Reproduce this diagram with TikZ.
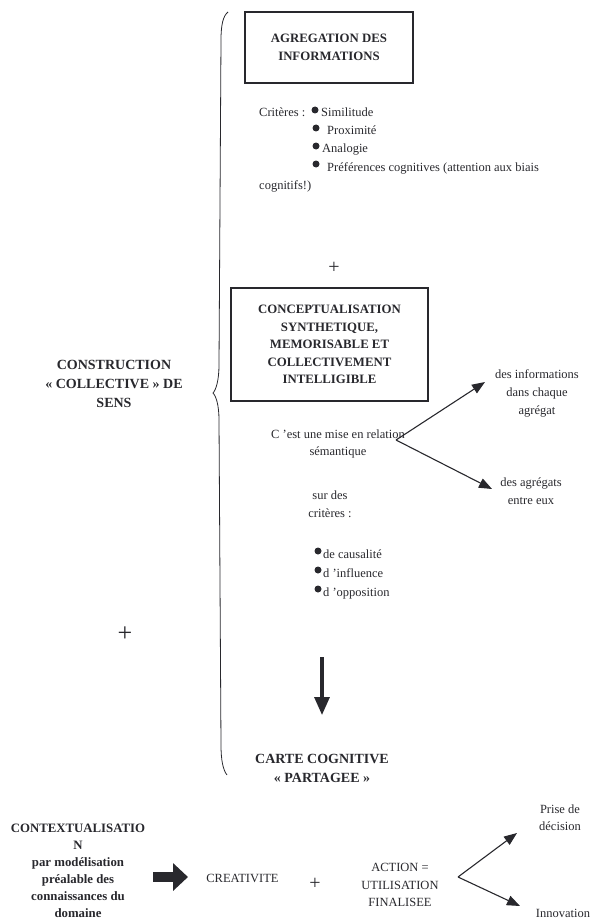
\documentclass[tikz,border=0pt]{standalone}
\usepackage{fontspec}
\setmainfont{Liberation Serif}
\usetikzlibrary{arrows.meta}
\definecolor{ink}{RGB}{40,40,45}
\begin{document}
\begin{tikzpicture}[x=1pt,y=-1pt,
  every node/.style={text=ink, inner sep=0pt, font=\fontsize{12.5}{17.5}\selectfont},
  bold/.style={font=\fontsize{12.8}{17.5}\selectfont\bfseries, align=center},
  bigbold/.style={font=\fontsize{14}{19}\selectfont\bfseries, align=center},
  txt/.style={align=center},
  box/.style={draw=ink, line width=1.1pt},
  bul/.style={circle, fill=ink, minimum size=7pt, inner sep=0pt},
  thinarrow/.style={draw=ink, line width=1.1pt, -{Triangle[length=13pt,width=10pt]}},
  plussign/.style={font=\fontsize{20}{20}\selectfont},
]
\useasboundingbox (0,0) rectangle (594,923);

% brace
\draw[ink, line width=0.8pt] (228,12) .. controls (223,16) and (221,25) .. (221,40)
  -- (219,365) .. controls (219,380) and (216,390) .. (213,393)
  .. controls (216,396) and (219,405) .. (219,420)
  -- (221,745) .. controls (221,760) and (223,770) .. (227,775);

% box 1
\node[box, bold, minimum width=168pt, minimum height=71pt] (agg) at (329,47.5) {AGREGATION DES\\INFORMATIONS};

% criteria
\node[anchor=base west] (crit) at (259,117) {Critères :};
\node[bul] (bu1) at (315,110) {};
\node[anchor=base west] (sim) at (321,117) {Similitude};
\node[bul] (bu2) at (316,128) {};
\node[anchor=base west] (prox) at (327,135) {Proximité};
\node[bul] (bu3) at (316,146) {};
\node[anchor=base west] (ana) at (322,153) {Analogie};
\node[bul] (bu4) at (316,164) {};
\node[anchor=base west] (pref) at (327,171) {Préférences cognitives (attention aux biais};
\node[anchor=base west] (cog) at (259,189) {cognitifs!)};

\node[plussign] (plus1) at (334,268) {+};

% box 2
\node[box, bold, minimum width=197pt, minimum height=113pt] (concept) at (329.5,344.5)
  {CONCEPTUALISATION\\SYNTHETIQUE,\\MEMORISABLE ET\\COLLECTIVEMENT\\INTELLIGIBLE};

% left block
\node[bigbold] (constr) at (114,384)
  {CONSTRUCTION\\« COLLECTIVE » DE\\SENS};

% semantic relation
\node[txt] (rel) at (338,444) {C ’est une mise en relation\\sémantique};
\coordinate (j1) at (396,440);
\node[txt, font=\fontsize{12.5}{18}\selectfont] (inf) at (537,393) {des informations\\dans chaque\\agrégat};
\node[txt] (aggr) at (531,491) {des agrégats\\entre eux};
\coordinate (t1) at (485,382);
\coordinate (t2) at (492,489);
\draw[thinarrow] (j1) -- (t1);
\draw[thinarrow] (j1) -- (t2);

\node[txt] (sur) at (330,504) {sur des\\critères :};
\node[bul] (bc1) at (318,551) {};
\node[anchor=base west] (caus) at (323,558) {de causalité};
\node[bul] (bc2) at (318,570) {};
\node[anchor=base west] (infl) at (323,577) {d ’influence};
\node[bul] (bc3) at (318,589) {};
\node[anchor=base west] (oppo) at (323,596) {d ’opposition};

\node[font=\fontsize{26}{26}\selectfont] (plus2) at (125,634) {+};

% down arrow
\coordinate (d1) at (322,657);
\coordinate (d2) at (322,715);
\draw[draw=ink, line width=3.2pt, -{Triangle[length=18pt,width=15pt]}] (d1) -- (d2);

\node[bigbold] (carte) at (322,768) {CARTE COGNITIVE\\« PARTAGEE »};

% bottom row
\node[bold, font=\fontsize{12.8}{17}\selectfont\bfseries] (ctx) at (78,871)
  {CONTEXTUALISATIO\\N\\par modélisation\\préalable des\\connaissances du\\domaine};
\coordinate (a1) at (153,877);
\coordinate (a2) at (188,877);
\draw[draw=ink, line width=10pt, -{Triangle[length=15pt,width=27pt]}] (a1) -- (a2);

\node (crea) at (242.5,878) {CREATIVITE};
\node[plussign] (plus3) at (315,884) {+};
\node[txt] (action) at (400,885) {ACTION =\\UTILISATION\\FINALISEE};
\coordinate (j2) at (458,877);
\coordinate (t3) at (517,833);
\coordinate (t4) at (520,906);
\draw[thinarrow] (j2) -- (t3);
\draw[thinarrow] (j2) -- (t4);
\node[txt] (prise) at (560,817.5) {Prise de\\décision};
\node (innov) at (563,913.5) {Innovation};
\end{tikzpicture}
\end{document}
